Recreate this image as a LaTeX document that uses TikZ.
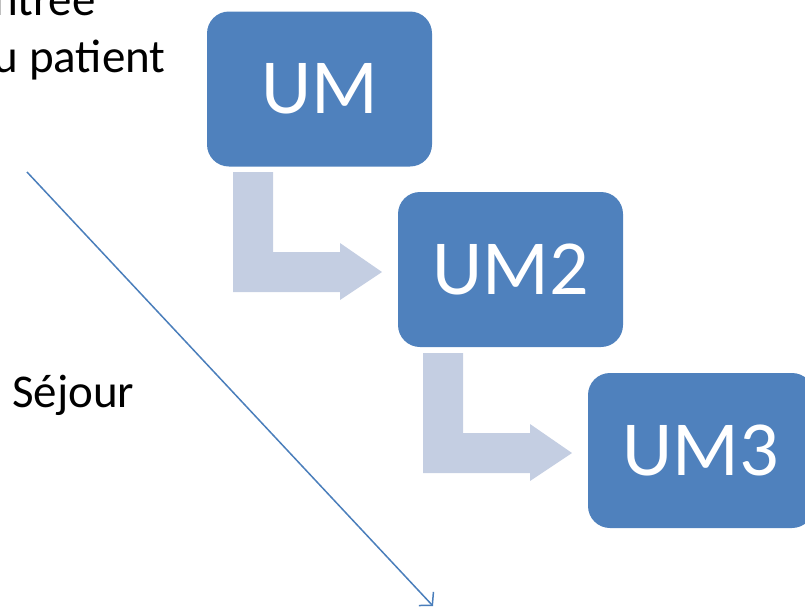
\documentclass[tikz,border=0pt]{standalone}
\usepackage{fontspec}
\setmainfont{Carlito}
\usetikzlibrary{arrows.meta}
\definecolor{umblue}{HTML}{4F81BD}
\definecolor{bentcol}{HTML}{C4CEE2}
\definecolor{linecol}{HTML}{4A7EBB}
\tikzset{
  umbox/.style={fill=umblue, draw=none, rounded corners=22pt, minimum width=225pt, minimum height=155pt, inner sep=0pt, text=white, font=\fontsize{78}{90}\selectfont},
  bentarrow/.style={fill=bentcol, draw=none},
  lbl/.style={inner sep=0pt, anchor=base west, font=\fontsize{47}{56}\selectfont, text=black}
}
\begin{document}
\begin{tikzpicture}[x=1pt,y=-1pt]
\useasboundingbox (0,0) rectangle (805,608);
\clip (0,0) rectangle (805,608);
% boxes
\node[umbox] (um1) at (319.5,89) {UM};
\node[umbox] (um2) at (510.5,269.5) {UM2};
\node[umbox, minimum width=226pt] (um3) at (701,450.5) {UM3};
% bent arrows
\path[bentarrow] (233,172) -- (273,172) -- (273,252) -- (340,252) -- (340,243) -- (382,272) -- (340,300) -- (340,292) -- (233,292) -- cycle;
\path[bentarrow] (423,353) -- (463,353) -- (463,433) -- (530,433) -- (530,424) -- (572,453) -- (530,481) -- (530,473) -- (423,473) -- cycle;
% labels
\node[lbl] (entree) at (-30,15) {Entrée};
\node[lbl] (patient) at (-31,72) {du patient};
\node[lbl] (sejour) at (12,407) {Séjour};
% diagonal arrow
\coordinate (ls) at (27,172);
\coordinate (le) at (433,606);
\draw[linecol, line width=1.5pt, -{Straight Barb[length=9pt,width=20pt,line width=1.5pt]}] (ls) -- (le);
\end{tikzpicture}
\end{document}
